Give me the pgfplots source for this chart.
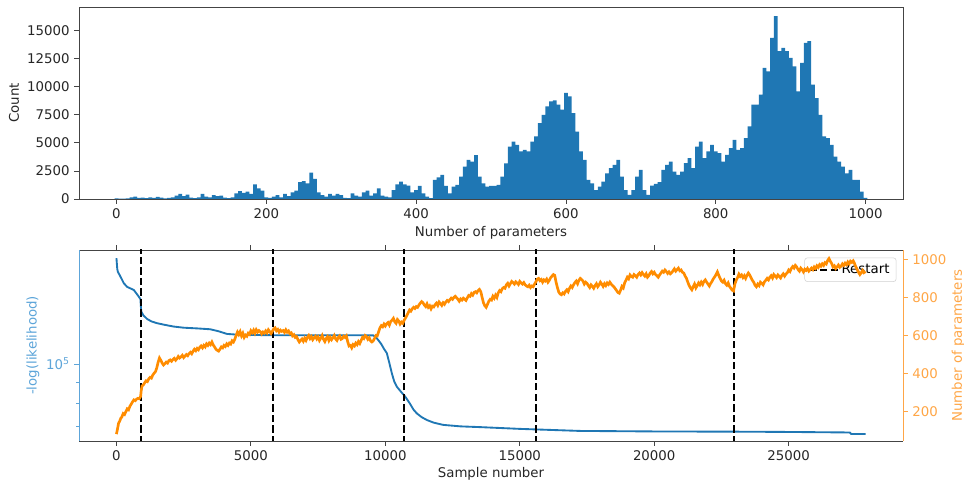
\documentclass[border=0pt]{standalone}
\usepackage{pgfplots}
\pgfplotsset{compat=1.18}
\usepackage{fontspec}
\setmainfont{DejaVu Sans}
\definecolor{c1}{HTML}{1F77B4}
\definecolor{c1l}{HTML}{5DA5D9}
\definecolor{dorange}{HTML}{FF8C00}
\definecolor{orl}{HTML}{FFA646}
\definecolor{spine}{HTML}{444444}

\pgfplotstableread{
x y
0 50
5 30
10 40
15 60
20 150
25 200
30 100
35 120
40 80
45 150
50 100
55 180
60 120
65 60
70 100
75 150
80 300
85 450
90 250
95 400
100 120
105 80
110 150
115 450
120 200
125 150
130 350
135 250
140 300
145 120
150 80
155 150
160 500
165 700
170 550
175 650
180 450
185 1300
190 950
195 750
200 150
205 100
210 200
215 350
220 150
225 450
230 250
235 600
240 750
245 1500
250 1600
255 1400
260 2350
265 1800
270 600
275 350
280 200
285 450
290 300
295 450
300 350
305 100
310 80
315 500
320 300
325 200
330 600
335 750
340 300
345 500
350 950
355 300
360 200
365 150
370 800
375 1300
380 1550
385 1300
390 1200
395 600
400 800
405 1160
410 500
415 200
420 80
425 1700
430 1935
435 2140
440 1160
445 500
450 1100
455 1250
460 2000
465 2890
470 3480
475 3330
480 3900
485 2000
490 1400
495 1100
500 1160
505 1160
510 1250
515 2000
520 3180
525 4670
530 5120
535 4820
540 4230
545 4380
550 4230
555 5120
560 5570
565 6760
570 7500
575 8250
580 8690
585 8780
590 8400
595 7950
600 9440
605 9140
610 7650
615 6010
620 4230
625 3480
630 1700
635 1400
640 800
645 1100
650 1550
655 2290
660 2740
665 3040
670 3480
675 2000
680 800
685 360
690 800
695 2000
700 2590
705 800
710 360
715 1200
720 1350
725 1500
730 2590
735 3040
740 3330
745 2440
750 2140
755 2440
760 3190
765 3630
770 2740
775 4670
780 5120
785 3630
790 4230
795 4820
800 4230
805 4080
810 3330
815 3930
820 4520
825 5270
830 4380
835 4520
840 5420
845 6460
850 8400
855 8400
860 9290
865 11670
870 11370
875 14350
880 16280
885 13160
890 13460
895 13160
900 12560
905 11820
910 9590
915 12120
920 13900
925 14050
930 10180
935 8990
940 7500
945 5570
950 5420
955 4820
960 3780
965 3330
970 2890
975 2290
980 2590
985 1700
990 1700
995 650
1000 100
}\histdata

\pgfplotstableread{
x y
0 183000
30 172000
50 169400
149 164700
273 158600
397 155300
644 152600
830 146900
892 144800
920 135000
1000 132000
1140 129300
1300 127500
1511 126200
1800 125000
2130 123800
2500 123000
3000 122500
3492 121900
3800 120500
4112 118700
4500 118200
4978 118000
6000 117800
7000 117800
8000 117800
9000 117800
9548 117700
9650 116500
9733 114700
9850 112000
9950 109000
10057 106300
10150 100500
10242 94800
10330 90500
10428 87800
10550 85800
10737 83000
10900 80000
11050 77000
11171 75400
11350 73800
11543 72600
11800 71500
12150 70600
12800 70000
13523 69700
15009 69000
17240 68200
20000 68000
23440 67900
25000 67800
27270 67600
27330 67000
27860 67000
}\nlldata

\pgfplotstableread{
x y
0 82
40 110
80 140
120 150
160 165
200 172
250 190
300 185
350 200
400 215
450 210
500 228
550 240
600 252
650 262
700 258
750 266
800 270
850 268
900 280
920 310
950 335
1000 340
1050 352
1100 362
1150 358
1200 372
1250 380
1300 376
1350 392
1400 402
1450 410
1500 430
1550 460
1600 482
1650 470
1700 455
1750 445
1800 452
1850 460
1900 455
1950 468
2000 472
2050 465
2100 474
2150 480
2200 470
2250 478
2300 490
2350 482
2400 488
2450 496
2500 484
2550 492
2600 500
2650 494
2700 505
2750 512
2800 504
2850 518
2900 528
2950 520
3000 532
3050 525
3100 538
3150 545
3200 535
3250 548
3300 540
3350 556
3400 548
3450 560
3500 552
3550 566
3600 550
3650 540
3700 528
3750 522
3800 518
3850 528
3900 540
3950 535
4000 548
4050 542
4100 556
4150 548
4200 560
4250 555
4300 572
4350 566
4400 580
4450 600
4500 618
4550 605
4600 620
4650 598
4700 612
4750 590
4800 602
4850 596
4900 612
4950 606
5000 625
5050 615
5100 628
5150 612
5200 630
5250 618
5300 626
5350 620
5400 608
5450 618
5500 612
5550 624
5600 614
5650 630
5700 620
5750 610
5800 622
5850 635
5900 640
5950 625
6000 632
6050 618
6100 628
6150 622
6200 626
6250 616
6300 630
6350 618
6400 624
6450 610
6500 614
6550 598
6600 604
6650 590
6700 594
6750 578
6800 566
6850 575
6900 582
6950 570
7000 586
7050 574
7100 590
7150 600
7200 584
7250 594
7300 578
7350 588
7400 596
7450 582
7500 592
7550 574
7600 586
7650 600
7700 580
7750 568
7800 584
7850 594
7900 574
7950 590
8000 578
8050 588
8100 600
8150 582
8200 574
8250 590
8300 598
8350 580
8400 584
8450 596
8500 590
8550 598
8600 568
8650 545
8700 548
8750 535
8800 552
8850 545
8900 560
8950 552
9000 568
9050 558
9100 574
9150 590
9200 584
9250 600
9300 594
9350 580
9400 588
9450 572
9500 566
9550 572
9600 585
9650 600
9700 598
9750 620
9800 640
9850 652
9900 646
9950 660
10000 650
10050 662
10100 668
10150 655
10200 674
10250 680
10300 690
10350 672
10400 664
10450 684
10500 676
10550 660
10600 670
10650 664
10700 680
10750 692
10800 705
10850 720
10900 734
10950 728
11000 740
11050 748
11100 742
11150 752
11200 748
11250 760
11300 770
11350 778
11400 772
11450 760
11500 752
11550 766
11600 748
11650 756
11700 740
11750 754
11800 750
11850 762
11900 770
11950 758
12000 776
12050 768
12100 758
12150 772
12200 764
12250 776
12300 784
12350 778
12400 788
12450 796
12500 790
12550 800
12600 806
12650 798
12700 790
12750 780
12800 792
12850 786
12900 796
12950 790
13000 784
13050 798
13100 810
13150 806
13200 820
13250 812
13300 826
13350 830
13400 824
13450 836
13500 842
13550 830
13600 800
13650 772
13700 756
13750 748
13800 764
13850 780
13900 790
13950 786
14000 806
14050 796
14100 812
14150 800
14200 824
14250 836
14300 830
14350 846
14400 852
14450 848
14500 866
14550 874
14600 860
14650 872
14700 884
14750 878
14800 870
14850 882
14900 876
14950 868
15000 884
15050 876
15100 870
15150 878
15200 866
15250 860
15300 856
15350 864
15400 852
15450 860
15500 856
15550 870
15600 882
15650 896
15700 900
15750 888
15800 894
15850 880
15900 892
15950 886
16000 896
16050 880
16100 890
16150 904
16200 912
16250 920
16300 916
16350 880
16400 852
16450 828
16500 818
16550 814
16600 824
16650 818
16700 832
16750 840
16800 830
16850 848
16900 860
16950 852
17000 866
17050 878
17100 886
17150 872
17200 890
17250 900
17300 894
17350 886
17400 870
17450 880
17500 874
17550 862
17600 852
17650 866
17700 858
17750 848
17800 862
17850 872
17900 856
17950 866
18000 880
18050 870
18100 858
18150 872
18200 862
18250 876
18300 868
18350 880
18400 870
18450 862
18500 856
18550 846
18600 836
18650 826
18700 822
18750 838
18800 858
18850 850
18900 876
18950 890
19000 906
19050 898
19100 918
19150 910
19200 906
19250 920
19300 914
19350 906
19400 920
19450 928
19500 918
19550 930
19600 920
19650 912
19700 924
19750 906
19800 914
19850 928
19900 936
19950 924
20000 932
20050 920
20100 914
20150 906
20200 918
20250 928
20300 938
20350 932
20400 944
20450 936
20500 926
20550 934
20600 924
20650 930
20700 940
20750 950
20800 938
20850 946
20900 954
20950 940
21000 944
21050 932
21100 928
21150 912
21200 900
21250 880
21300 862
21350 850
21400 840
21450 856
21500 870
21550 850
21600 862
21650 876
21700 866
21750 880
21800 868
21850 884
21900 892
21950 880
22000 870
22050 860
22100 874
22150 884
22200 898
22250 908
22300 920
22350 934
22400 916
22450 900
22500 886
22550 880
22600 890
22650 872
22700 864
22750 876
22800 858
22850 848
22900 838
22950 834
23000 870
23050 890
23100 904
23150 922
23200 910
23250 918
23300 904
23350 914
23400 900
23450 916
23500 928
23550 918
23600 904
23650 890
23700 880
23750 864
23800 856
23850 870
23900 862
23950 880
24000 874
24050 866
24100 882
24150 890
24200 900
24250 892
24300 906
24350 914
24400 902
24450 920
24500 912
24550 904
24600 918
24650 910
24700 902
24750 916
24800 924
24850 912
24900 922
24950 930
25000 944
25050 936
25100 952
25150 962
25200 954
25250 968
25300 960
25350 946
25400 938
25450 954
25500 946
25550 934
25600 948
25650 942
25700 952
25750 938
25800 946
25850 954
25900 946
25950 960
26000 952
26050 966
26100 958
26150 972
26200 964
26250 976
26300 968
26350 982
26400 976
26450 994
26500 1004
26550 990
26600 978
26650 960
26700 966
26750 952
26800 960
26850 970
26900 958
26950 964
27000 976
27050 968
27100 980
27150 972
27200 986
27250 976
27300 990
27350 984
27400 992
27450 978
27500 960
27550 946
27600 932
27650 920
27700 930
27750 942
27800 930
27860 936
}\npdata

\pgfplotsset{
  every axis/.append style={
    scale only axis,
    width=618pt,
    font=\fontsize{10}{12}\selectfont,
    tick align=outside,
    major tick length=3.5pt,
    minor tick length=2pt,
    every tick/.style={spine, line width=0.6pt},
    axis line style={spine, line width=0.6pt},
    scaled ticks=false,
    /pgf/number format/assume math mode=true,
    /pgf/number format/1000 sep={},
    tick label style={black!85},
    label style={black!85},
  }
}

\begin{document}
\begin{tikzpicture}
\useasboundingbox (0,0) rectangle (723pt,363pt);

% ---------- top histogram ----------
\begin{axis}[
  at={(59.25pt,213.75pt)}, anchor=south west,
  height=144pt,
  xmin=-50, xmax=1050, ymin=0, ymax=17100,
  xtick={0,200,...,1000},
  ytick={0,2500,...,15000},
  xtick pos=bottom, ytick pos=left,
  xlabel={Number of parameters}, ylabel={Count},
  xlabel style={at={(axis description cs:0.5,-0.177)}, anchor=center},
  ylabel style={at={(axis description cs:-0.079,0.5)}, anchor=center},
]
\addplot[ybar, bar width=5, fill=c1, draw=none] table[x=x,y=y] {\histdata};
\end{axis}

% ---------- bottom: -log likelihood (log) ----------
\begin{axis}[
  at={(59.25pt,32.25pt)}, anchor=south west,
  height=143.25pt,
  xmin=-1393, xmax=29253,
  ymode=log, ymin=64400, ymax=191800,
  xtick={0,5000,...,25000},
  ytick={100000}, yticklabels={10\textsuperscript{5}},
  minor ytick={60000,70000,80000,90000,200000},
  axis x line*=box, axis y line*=left,
  y axis line style={c1l, line width=0.6pt},
  ytick style={c1l},
  yticklabel style={c1l},
  ylabel style={c1l},
  xlabel={Sample number}, ylabel={-log(likelihood)},
  xlabel style={at={(axis description cs:0.5,-0.173)}, anchor=center},
  ylabel style={at={(axis description cs:-0.056,0.5)}, anchor=center},
  legend style={at={(0.992,0.96)}, anchor=north east, draw=black!18, rounded corners=2pt,
    fill=white, fill opacity=0.8, text opacity=1, font=\fontsize{10}{12}\selectfont,
    inner xsep=3pt, inner ysep=2.5pt},
  legend image code/.code={\draw[#1] (0cm,0cm) -- (0.75cm,0cm);},
  legend cell align=left,
]
\addplot[c1, line width=1.4pt, forget plot] table[x=x,y=y] {\nlldata};
\addplot[black, line width=1.3pt, dash pattern=on 5.5pt off 2.4pt] coordinates {(917,50000) (917,250000)};
\addlegendentry{Restart}
\addplot[black, line width=1.3pt, dash pattern=on 5.5pt off 2.4pt, forget plot] coordinates {(5822,50000) (5822,250000)};
\addplot[black, line width=1.3pt, dash pattern=on 5.5pt off 2.4pt, forget plot] coordinates {(10690,50000) (10690,250000)};
\addplot[black, line width=1.3pt, dash pattern=on 5.5pt off 2.4pt, forget plot] coordinates {(15590,50000) (15590,250000)};
\addplot[black, line width=1.3pt, dash pattern=on 5.5pt off 2.4pt, forget plot] coordinates {(22970,50000) (22970,250000)};
\end{axis}

% ---------- bottom: number of parameters (right axis) ----------
\begin{axis}[
  at={(59.25pt,32.25pt)}, anchor=south west,
  height=143.25pt,
  xmin=-1393, xmax=29253,
  ymin=46, ymax=1049,
  ytick={200,400,...,1000},
  axis x line=none, axis y line*=right,
  y axis line style={orl, line width=0.6pt},
  ytick style={orl},
  yticklabel style={orl},
  ylabel={Number of parameters},
  ylabel style={orl, at={(axis description cs:1.067,0.5)}, anchor=center},
]
\addplot[dorange, line width=2pt] table[x=x,y=y] {\npdata};
\end{axis}
\end{tikzpicture}
\end{document}
